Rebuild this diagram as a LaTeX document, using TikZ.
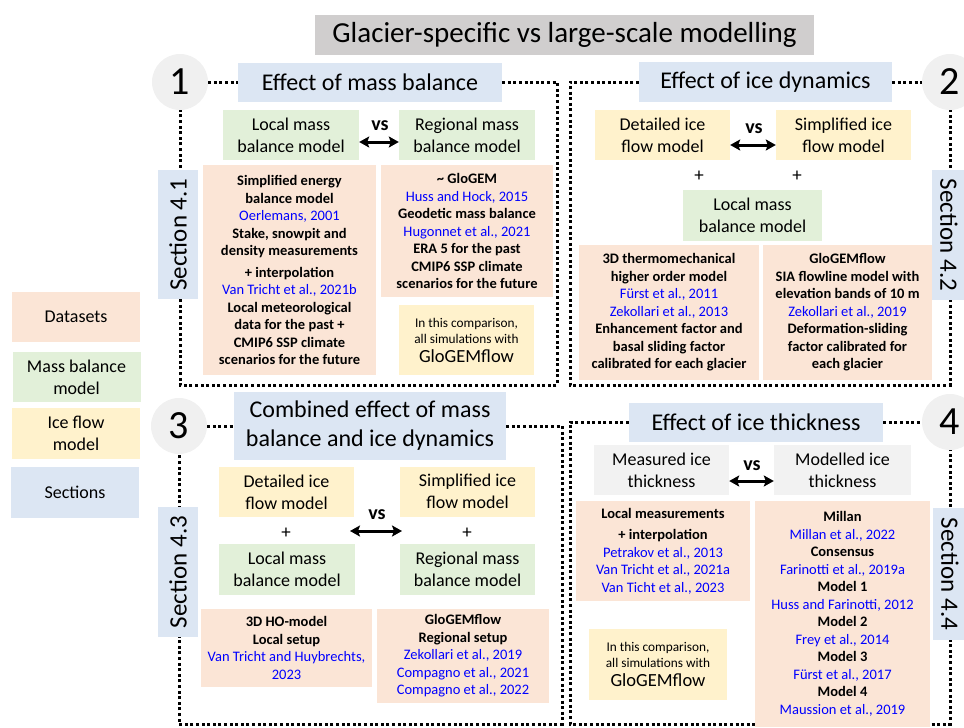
\documentclass[tikz,border=0pt]{standalone}
\usepackage{fontspec}
\setmainfont{Carlito}
\usetikzlibrary{arrows.meta}
\definecolor{dsfill}{HTML}{FBE5D6}
\definecolor{mbfill}{HTML}{E2F0D9}
\definecolor{iffill}{HTML}{FFF2CC}
\definecolor{secfill}{HTML}{DCE6F3}
\definecolor{titlefill}{HTML}{D0CECE}
\definecolor{circfill}{HTML}{F0F0F0}
\definecolor{thkfill}{HTML}{F2F2F2}
\definecolor{refblue}{HTML}{0000FF}
\newcommand{\reftext}[1]{{\mdseries\color{refblue}#1}}
\pgfdeclarelayer{bg}
\pgfsetlayers{bg,main}
\begin{document}
\begin{tikzpicture}[x=1pt,y=-1pt,
  box/.style={inner sep=0pt, align=center, anchor=center},
  hdr/.style={box, fill=secfill, font=\fontsize{24}{29}\selectfont},
  numc/.style={circle, fill=circfill, minimum size=56pt, inner sep=0pt, font=\fontsize{40}{40}\selectfont},
  model/.style={box, minimum width=136pt, minimum height=50pt, font=\fontsize{18}{22}\selectfont},
  mbm/.style={model, fill=mbfill},
  ifm/.style={model, fill=iffill},
  thk/.style={model, fill=thkfill},
  ds/.style={box, fill=dsfill, font=\bfseries\fontsize{14.5}{17.5}\selectfont},
  note/.style={box, fill=iffill, font=\fontsize{13.3}{16}\selectfont},
  seclbl/.style={box, fill=secfill, minimum width=130pt, minimum height=40pt, font=\fontsize{25}{25}\selectfont},
  legend/.style={box, minimum width=128pt, minimum height=50pt, font=\fontsize{18}{22}\selectfont},
  vslbl/.style={box, font=\bfseries\fontsize{20}{20}\selectfont},
  plus/.style={box, font=\fontsize{19}{19}\selectfont},
  dots/.style={line width=3pt, dash pattern=on 3pt off 2.6pt},
  dbl/.style={{Stealth[length=10pt,width=11pt,inset=2pt]}-{Stealth[length=10pt,width=11pt,inset=2pt]}, line width=3pt}]
\useasboundingbox (0,0) rectangle (964,728);

% title
\node[box, fill=titlefill, minimum width=499pt, minimum height=40pt, font=\fontsize{29}{34}\selectfont] (title) at (564.5,35) {Glacier-specific vs large-scale modelling};

% numbered circles and section headers
\node[numc] (c1) at (180,82) {1};
\node[numc] (c2) at (950,82) {2};
\node[numc] (c3) at (179,426) {3};
\node[numc] (c4) at (950,422) {4};
\node[hdr, minimum width=264pt, minimum height=39pt] (h1) at (370,82) {Effect of mass balance};
\node[hdr, minimum width=253pt, minimum height=40pt] (h2) at (765.5,82) {Effect of ice dynamics};
\node[hdr, minimum width=272pt, minimum height=68pt] (h3) at (370,426) {Combined effect of mass\\balance and ice dynamics};
\node[hdr, minimum width=254pt, minimum height=39pt] (h4) at (756,422) {Effect of ice thickness};

% frame corners
\coordinate (r1a) at (557,82);  \coordinate (r1b) at (557,385); \coordinate (r1c) at (180,385);
\coordinate (r2a) at (570,82);  \coordinate (r2b) at (570,385); \coordinate (r2c) at (950,385);
\coordinate (r3a) at (562,426); \coordinate (r3b) at (562,724); \coordinate (r3c) at (179,724);
\coordinate (r4a) at (570,422); \coordinate (r4b) at (570,724); \coordinate (r4c) at (950,724);

% section labels
\node[seclbl, rotate=90, minimum width=129pt] (s41) at (178,234.5) {Section 4.1};
\node[seclbl, rotate=-90, minimum width=130pt, minimum height=34pt] (s42) at (949,235) {Section 4.2};
\node[seclbl, rotate=90] (s43) at (178,572) {Section 4.3};
\node[seclbl, rotate=-90, minimum width=132pt, minimum height=34pt] (s44) at (950,574) {Section 4.4};

% legend
\node[legend, fill=dsfill] (lg1) at (76,317) {Datasets};
\node[legend, fill=mbfill] (lg2) at (76.5,377) {Mass balance\\model};
\node[legend, fill=iffill, minimum height=51pt] (lg3) at (76,433.5) {Ice flow\\model};
\node[legend, fill=secfill, minimum height=51pt] (lg4) at (75,492.5) {Sections};

% ---- 1: mass balance
\node[mbm] (lmb1) at (291,135) {Local mass\\balance model};
\node[mbm] (rmb1) at (467,135) {Regional mass\\balance model};
\node[vslbl] (vs1) at (380,126) {vs};
\node[ds, minimum width=173pt, minimum height=210pt] (ds1a) at (289.5,270) {Simplified energy\\balance model\\\reftext{Oerlemans, 2001}\\Stake, snowpit and\\density measurements\\[4pt]+ interpolation\\\reftext{Van Tricht et al., 2021b}\\Local meteorological\\data for the past +\\CMIP6 SSP climate\\scenarios for the future};
\node[ds, minimum width=172pt, minimum height=132pt] (ds1b) at (467,231) {\textasciitilde\ GloGEM\\\reftext{Huss and Hock, 2015}\\Geodetic mass balance\\\reftext{Hugonnet et al., 2021}\\ERA 5 for the past\\CMIP6 SSP climate\\scenarios for the future};
\node[note, minimum width=135pt, minimum height=70pt] (gg1) at (466.5,340) {In this comparison,\\all simulations with\\[3pt]{\fontsize{18.5}{22}\selectfont GloGEMflow}};

% ---- 2: ice dynamics
\node[ifm, minimum width=135pt] (dif2) at (662.5,135) {Detailed ice\\flow model};
\node[ifm, minimum width=135pt] (sif2) at (843.5,135) {Simplified ice\\flow model};
\node[vslbl] (vs2) at (754,129) {vs};
\node[plus] (p2l) at (699,176) {+};
\node[plus] (p2r) at (797,176) {+};
\node[mbm, minimum width=139pt, minimum height=51pt] (lmb2) at (752.5,215.5) {Local mass\\balance model};
\node[ds, minimum width=180pt, minimum height=135pt] (ds2a) at (669,312.5) {3D thermomechanical\\higher order model\\\reftext{Fürst et al., 2011}\\\reftext{Zekollari et al., 2013}\\Enhancement factor and\\basal sliding factor\\calibrated for each glacier};
\node[ds, minimum width=169pt, minimum height=135pt] (ds2b) at (847.5,312.5) {GloGEMflow\\SIA flowline model with\\elevation bands of 10 m\\\reftext{Zekollari et al., 2019}\\Deformation-sliding\\factor calibrated for\\each glacier};

% ---- 3: combined effect
\node[ifm, minimum width=135pt] (dif3) at (286.5,492) {Detailed ice\\flow model};
\node[mbm, minimum height=51pt] (lmb3) at (287,569.5) {Local mass\\balance model};
\node[ifm, minimum width=135pt] (sif3) at (467.5,491.5) {Simplified ice\\flow model};
\node[mbm, minimum width=135pt, minimum height=51pt] (rmb3) at (467.5,569.5) {Regional mass\\balance model};
\node[plus] (p3l) at (286,533) {+};
\node[plus] (p3r) at (467,533) {+};
\node[vslbl] (vs3) at (377,515) {vs};
\coordinate (a3l) at (350,531);
\coordinate (a3r) at (402,531);
\node[ds, minimum width=171pt, minimum height=78pt] (ds3a) at (286.5,648) {3D HO-model\\Local setup\\\reftext{Van Tricht and Huybrechts,}\\\reftext{2023}};
\node[ds, minimum width=172pt, minimum height=94pt] (ds3b) at (463,656) {GloGEMflow\\Regional setup\\\reftext{Zekollari et al., 2019}\\\reftext{Compagno et al., 2021}\\\reftext{Compagno et al., 2022}};

% ---- 4: ice thickness
\node[thk, minimum width=135pt] (mit) at (661.5,470) {Measured ice\\thickness};
\node[thk, minimum width=137pt] (moit) at (842.5,470) {Modelled ice\\thickness};
\node[vslbl] (vs4) at (752,466) {vs};
\node[ds, minimum width=174pt, minimum height=100pt] (ds4a) at (663,551) {Local measurements\\[4pt]+ interpolation\\\reftext{Petrakov et al., 2013}\\\reftext{Van Tricht et al., 2021a}\\\reftext{Van Ticht et al., 2023}};
\node[ds, minimum width=175pt, minimum height=226pt] (ds4b) at (842.5,614) {Millan\\\reftext{Millan et al., 2022}\\Consensus\\\reftext{Farinotti et al., 2019a}\\Model 1\\\reftext{Huss and Farinotti, 2012}\\Model 2\\\reftext{Frey et al., 2014}\\Model 3\\\reftext{Fürst et al., 2017}\\Model 4\\\reftext{Maussion et al., 2019}};
\node[note, minimum width=138pt, minimum height=71pt] (gg4) at (658,664.5) {In this comparison,\\all simulations with\\[3pt]{\fontsize{18.5}{22}\selectfont GloGEMflow}};

% comparison arrows
\draw[dbl] ([yshift=-7pt]lmb1.east) -- ([yshift=-7pt]rmb1.west);
\draw[dbl] ([yshift=-10pt]dif2.east) -- ([yshift=-10pt]sif2.west);
\draw[dbl] (a3l) -- (a3r);
\draw[dbl] ([yshift=-11pt]mit.east) -- ([yshift=-11pt]moit.west);

% dotted frames behind the boxes
\begin{pgfonlayer}{bg}
\draw[dots] (c1) -- (h1);
\draw[dots] (h1.east) -- (r1a) -- (r1b) -- (r1c) -- (c1.south);
\draw[dots] (h2) -- (c2);
\draw[dots] (h2.west) -- (r2a) -- (r2b) -- (r2c) -- (c2.south);
\draw[dots] (c3) -- (h3);
\draw[dots] (h3.east) -- (r3a) -- (r3b) -- (r3c) -- (c3.south);
\draw[dots] (h4) -- (c4);
\draw[dots] (h4.west) -- (r4a) -- (r4b) -- (r4c) -- (c4.south);
\end{pgfonlayer}
\end{tikzpicture}
\end{document}
